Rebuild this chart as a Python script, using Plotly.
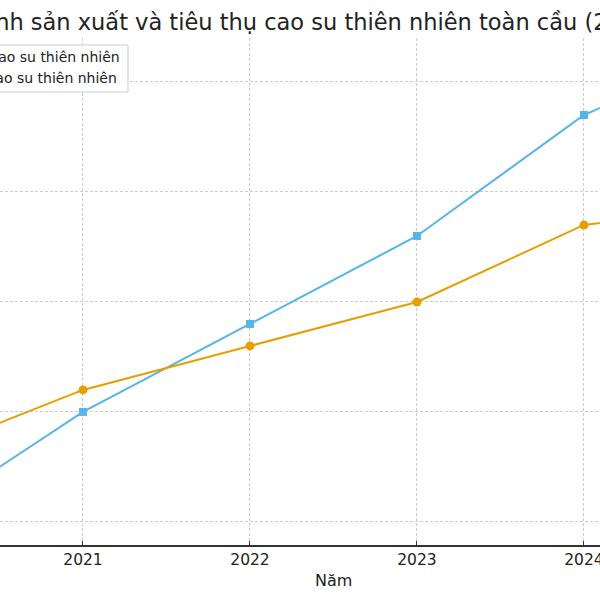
import plotly.graph_objects as go

years = [2020, 2021, 2022, 2023, 2024, 2025]
san_xuat = [13.0, 13.5, 13.9, 14.3, 14.85, 15.18]
tieu_thu = [13.3, 13.6, 13.8, 14.0, 14.35, 14.44]
series_names = ["Sản xuất cao su thiên nhiên", "Tiêu thụ cao su thiên nhiên"]
title_text = "Tình hình sản xuất và tiêu thụ cao su thiên nhiên toàn cầu (2020-2024)"
x_title = "Năm"

FONT = "DejaVu Sans, Verdana, sans-serif"
BLUE = "#56B4E9"
ORANGE = "#E69F00"

fig = go.Figure()
fig.add_trace(go.Scatter(x=years, y=san_xuat, mode="lines+markers", name=series_names[0],
                         line=dict(color=BLUE, width=2),
                         marker=dict(symbol="square", size=8, color=BLUE)))
fig.add_trace(go.Scatter(x=years, y=tieu_thu, mode="lines+markers", name=series_names[1],
                         line=dict(color=ORANGE, width=2),
                         marker=dict(symbol="circle", size=9, color=ORANGE)))

W, H = 600, 600
T, B = 38, 55
ph = H - T - B

def py(Y):
    return (H - B - Y) / ph

def px(X):
    return X / W

fig.update_layout(
    width=W, height=H,
    margin=dict(l=0, r=0, t=T, b=B, pad=0, autoexpand=False),
    paper_bgcolor="white", plot_bgcolor="white",
    showlegend=False,
    font=dict(family=FONT, color="#222"),
    xaxis=dict(range=[2020.503, 2024.096], tickmode="linear", tick0=2020, dtick=1,
               showgrid=True, gridcolor="#cccccc", gridwidth=1, griddash="3px,2px",
               showline=True, linecolor="#333333", linewidth=1.5,
               ticks="inside", ticklen=4, tickcolor="#333333", tickwidth=1,
               tickfont=dict(size=15.5, family=FONT, color="#222"),
               ticklabeloverflow="allow", automargin=False,
               zeroline=False, fixedrange=True),
    yaxis=dict(range=[12.895, 15.2], tickmode="linear", tick0=13, dtick=0.5,
               showgrid=True, gridcolor="#cccccc", gridwidth=1, griddash="3px,2px",
               showticklabels=False, showline=False, zeroline=False, ticks="",
               automargin=False),
)

# legend box (partially outside view)
fig.add_shape(type="rect", xref="paper", yref="paper",
              x0=-0.5, x1=px(128), y0=py(92), y1=py(45),
              line=dict(color="#cccccc", width=1), fillcolor="rgba(255,255,255,0.85)",
              layer="above")
fig.add_annotation(text=series_names[0], xref="paper", yref="paper",
                   x=px(122), y=py(57), xanchor="right", yanchor="middle",
                   showarrow=False, font=dict(size=14, family=FONT, color="#222"))
fig.add_annotation(text=series_names[1], xref="paper", yref="paper",
                   x=px(118.5), y=py(78), xanchor="right", yanchor="middle",
                   showarrow=False, font=dict(size=14, family=FONT, color="#222"))

# title (wider than view)
fig.add_annotation(text=title_text, xref="paper", yref="paper",
                   x=0, xshift=-84, y=py(22), xanchor="left", yanchor="middle",
                   showarrow=False, font=dict(size=22.5, family=FONT, color="#222"))

# x-axis title
fig.add_annotation(text=x_title, xref="paper", yref="paper",
                   x=px(333), y=py(580), xanchor="center", yanchor="middle",
                   showarrow=False, font=dict(size=16, family=FONT, color="#222"))

fig.write_html("out.html", config={"displayModeBar": False},
               post_script="document.body.style.margin='0';document.body.style.overflow='hidden';")
